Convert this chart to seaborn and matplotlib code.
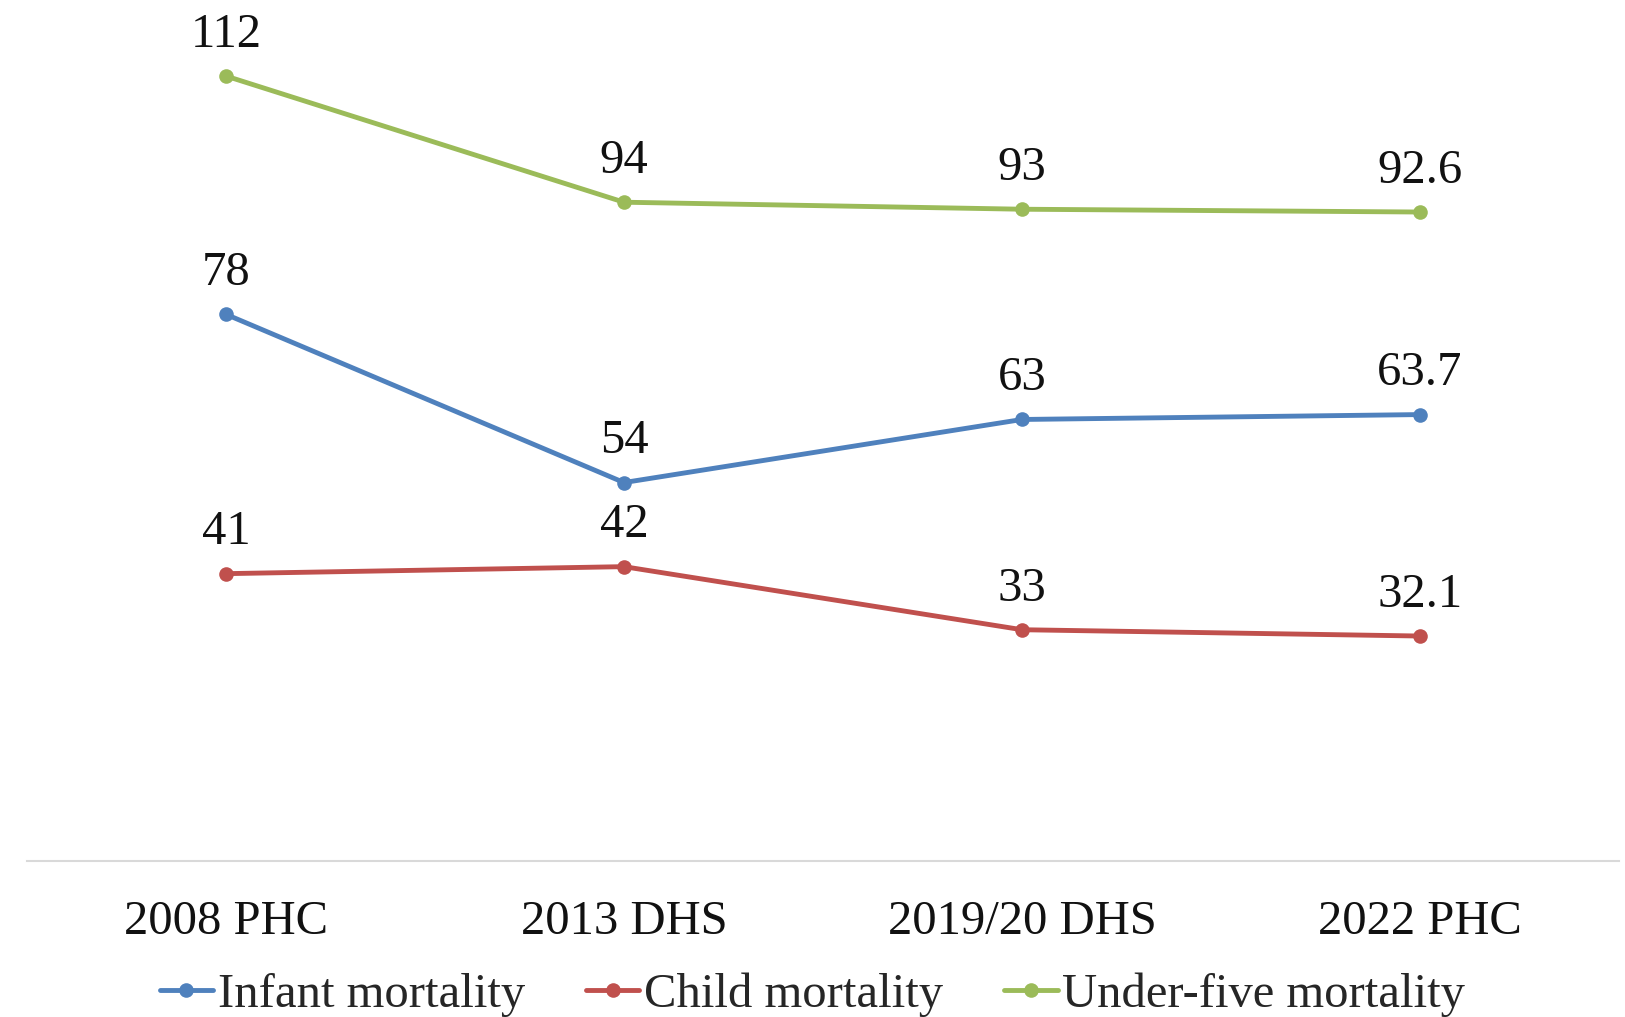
import matplotlib
matplotlib.use("Agg")
import matplotlib.pyplot as plt
import seaborn as sns
import pandas as pd

surveys = ["2008 PHC", "2013 DHS", "2019/20 DHS", "2022 PHC"]
infant = [78, 54, 63, 63.7]
child = [41, 42, 33, 32.1]
under_five = [112, 94, 93, 92.6]
series_names = ["Infant mortality", "Child mortality", "Under-five mortality"]
label_text = {
    "Infant mortality": ["78", "54", "63", "63.7"],
    "Child mortality": ["41", "42", "33", "32.1"],
    "Under-five mortality": ["112", "94", "93", "92.6"],
}
colors = ["#4F81BD", "#C0504D", "#9BBB59"]

rows = []
for name, vals in zip(series_names, [infant, child, under_five]):
    for s, v in zip(surveys, vals):
        rows.append({"survey": s, "value": v, "series": name})
df = pd.DataFrame(rows)

sns.set_style("white")
plt.rcParams["font.family"] = ["Liberation Serif", "DejaVu Serif"]

W, H = 1625, 1017
fig = plt.figure(figsize=(W / 100, H / 100), dpi=100)
ax = fig.add_axes([27 / W, (H - 861) / H, (1619 - 27) / W, (861 - 20) / H])

sns.lineplot(data=df, x="survey", y="value", hue="series", hue_order=series_names,
             palette=colors, marker="o", markersize=10.5, markeredgewidth=0,
             linewidth=3.5, ax=ax, sort=False)

for name in series_names:
    sub = df[df["series"] == name]
    for (s, v), t in zip(zip(sub["survey"], sub["value"]), label_text[name]):
        ax.annotate(t, (s, v), xytext=(0, 21), textcoords="offset points",
                    ha="center", va="baseline", fontsize=35, color="#111111")

ax.set_xlim(-0.5, 3.5)
ax.set_ylim(0, 120)
ax.set_xlabel("")
ax.set_ylabel("")
ax.set_yticks([])
for sp in ["top", "right", "left"]:
    ax.spines[sp].set_visible(False)
ax.spines["bottom"].set_color("#D9D9D9")
ax.spines["bottom"].set_linewidth(1.5)
ax.tick_params(axis="x", length=0, labelsize=35, pad=28, colors="#111111")

handles, labels = ax.get_legend_handles_labels()
ax.get_legend().remove()
fig.legend(handles, labels, loc="center", bbox_to_anchor=(0.5, (H - 995) / H),
           ncol=3, frameon=False, fontsize=35, handlelength=1.1,
           handletextpad=0.1, columnspacing=1.25, borderaxespad=0, borderpad=0)

fig.savefig("out.png", dpi=100)
